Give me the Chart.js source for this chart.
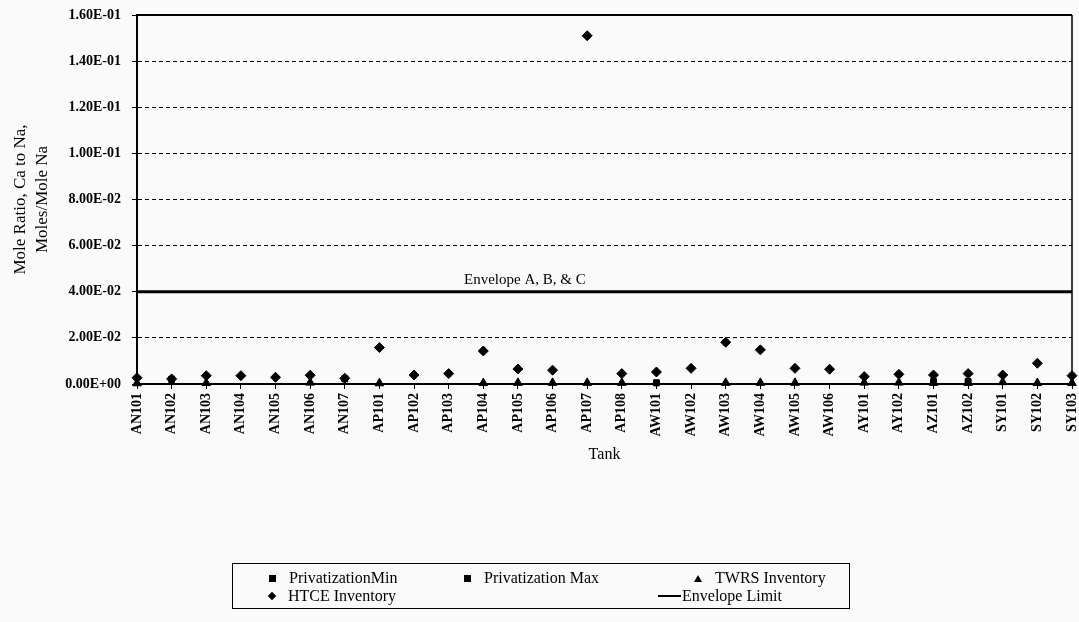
<!DOCTYPE html>
<html>
<head>
<meta charset="utf-8">
<script src="https://cdn.jsdelivr.net/npm/chart.js@4/dist/chart.umd.min.js"></script>
<style>
  body { margin: 0; background: #fafafa; }
  #wrap { position: relative; width: 1079px; height: 622px; }
  #legend {
    position: absolute; left: 232px; top: 563px; width: 616px; height: 44px;
    border: 1px solid #000; font-family: "Liberation Serif", serif; font-size: 16px; color: #000;
  }
  .item { position: absolute; display: flex; align-items: center; white-space: nowrap; line-height: 18px; }
  .mk { display: inline-block; margin-right: 13px; }
  .sq { width: 7px; height: 7px; background: #000; }
  .tri { width: 0; height: 0; border-left: 4px solid transparent; border-right: 4px solid transparent; border-bottom: 7px solid #000; }
  .dia { width: 6px; height: 6px; background: #000; transform: rotate(45deg); }
  .ln { width: 23px; height: 2px; background: #000; margin-right: 1px; }
</style>
</head>
<body>
<div id="wrap">
  <canvas id="chart"></canvas>
  <div id="legend"></div>
</div>
<script>
const tanks = ['AN101', 'AN102', 'AN103', 'AN104', 'AN105', 'AN106', 'AN107',
    'AP101', 'AP102', 'AP103', 'AP104', 'AP105', 'AP106', 'AP107', 'AP108',
    'AW101', 'AW102', 'AW103', 'AW104', 'AW105', 'AW106',
    'AY101', 'AY102', 'AZ101', 'AZ102', 'SY101', 'SY102', 'SY103']

const privMin = [null, 0.0019, null, null, null, null, 0.0022,
    null, null, null, null, null, null, null, null,
    0.0004, null, null, null, null, null,
    null, null, 0.0008, 0.0008, null, null, null]

const privMax = [null, 0.0021, null, null, null, null, 0.0024,
    null, null, null, null, null, null, null, null,
    0.0006, null, null, null, null, null,
    null, null, 0.0011, 0.0011, null, null, null]

const twrs = [0.0003, null, 0.0004, null, null, 0.0006, null,
    0.0003, null, null, 0.0004, 0.0005, 0.0005, 0.0005, 0.0005,
    null, null, 0.0005, 0.0005, 0.0005, null,
    0.0006, 0.0006, 0.0005, 0.0005, 0.0008, 0.0004, 0.0004]

const htce = [0.0027, 0.0022, 0.0036, 0.0036, 0.0029, 0.0038, 0.0025,
    0.0158, 0.0039, 0.0045, 0.0143, 0.0065, 0.006, 0.151, 0.0045,
    0.0052, 0.0068, 0.0181, 0.0148, 0.0068, 0.0064,
    0.0032, 0.0042, 0.0039, 0.0045, 0.0039, 0.009, 0.0036]

const envelopeLimit = tanks.map(() => 0.04)
const yTicks = [0, 0.02, 0.04, 0.06, 0.08, 0.1, 0.12, 0.14, 0.16]

// format 1.60E-01 comme dans l'original
function sci(v) {
    let s = Number(v).toExponential(2).toUpperCase()
    return s.replace(/E([+-])(\d)$/, 'E$10$2')
}

const serif = '"Liberation Serif", "Times New Roman", serif'

// cadre haut/droite + texte de l'enveloppe
const framePlugin = {
    id: 'frame',
    afterDatasetsDraw(chart) {
        const { ctx, chartArea: a, scales } = chart
        ctx.save()
        ctx.strokeStyle = '#000'
        ctx.lineWidth = 2
        ctx.beginPath()
        ctx.moveTo(a.left, a.top)
        ctx.lineTo(a.right, a.top)
        ctx.stroke()
        ctx.lineWidth = 1.5
        ctx.beginPath()
        ctx.moveTo(a.right, a.top)
        ctx.lineTo(a.right, a.bottom)
        ctx.stroke()
        ctx.fillStyle = '#000'
        ctx.font = '15px ' + serif
        ctx.textAlign = 'center'
        ctx.textBaseline = 'alphabetic'
        ctx.fillText('Envelope A, B, & C', scales.x.getPixelForValue(11.2), scales.y.getPixelForValue(0.04) - 8)
        ctx.restore()
    }
}

function pts(label, data, style, radius) {
    return {
        label, data,
        showLine: false,
        pointStyle: style,
        pointRadius: radius,
        pointHoverRadius: radius,
        pointBackgroundColor: '#000',
        pointBorderColor: '#000',
        borderColor: '#000',
        backgroundColor: '#000',
        clip: false
    }
}

const chart = new Chart(document.getElementById('chart'), {
    type: 'line',
    data: {
        labels: tanks,
        datasets: [
            pts('PrivatizationMin', privMin, 'rect', 4),
            pts('Privatization Max', privMax, 'rect', 4),
            pts('TWRS Inventory', twrs, 'triangle', 5),
            pts('HTCE Inventory', htce, 'rectRot', 5),
            {
                label: 'Envelope Limit',
                data: envelopeLimit,
                borderColor: '#000',
                borderWidth: 3,
                pointRadius: 0,
                fill: false
            }
        ]
    },
    options: {
        responsive: true,
        maintainAspectRatio: false,
        animation: false,
        layout: { padding: { top: 15, right: 7, bottom: 158, left: 0 } },
        plugins: { legend: { display: false }, tooltip: { enabled: false } },
        scales: {
            x: {
                offset: false,
                grid: { display: true, drawOnChartArea: false, drawTicks: true, tickLength: 5, color: '#000', tickColor: '#000', tickWidth: 1 },
                border: { display: true, color: '#000', width: 2 },
                ticks: {
                    autoSkip: false, maxRotation: 90, minRotation: 90, padding: 4,
                    color: '#000', font: { family: serif, size: 14, weight: 'bold' }
                },
                title: { display: true, text: 'Tank', color: '#000', font: { family: serif, size: 16 }, padding: { top: 0, bottom: 0 } },
                afterFit(scale) {
                    scale.height = 80
                    scale.paddingLeft = 0
                    scale.paddingRight = 0
                }
            },
            y: {
                min: 0,
                max: 0.16,
                afterBuildTicks(scale) {
                    scale.ticks = yTicks.map((v) => ({ value: v }))
                },
                grid: { color: '#000', lineWidth: 1, tickLength: 5, tickColor: '#000', tickBorderDash: [] },
                border: { display: true, color: '#000', width: 2, dash: [4, 3] },
                ticks: {
                    padding: 11, color: '#000',
                    font: { family: serif, size: 14, weight: 'bold' },
                    callback: (v) => sci(v)
                },
                title: {
                    display: true, text: ['Mole Ratio, Ca to Na,', 'Moles/Mole Na'], color: '#000',
                    font: { family: serif, size: 17, lineHeight: 1.3 }, padding: { top: 9, bottom: 0 }
                },
                afterFit(scale) {
                    scale.width = 137
                    scale.paddingTop = 0
                    scale.paddingBottom = 0
                }
            }
        }
    },
    plugins: [framePlugin]
})

// légende HTML construite à partir des datasets
const legendPos = [
    { left: 36, top: 5 }, { left: 231, top: 5 }, { left: 461, top: 5 },
    { left: 36, top: 23 }, { left: 425, top: 23 }
]
const markClass = ['sq', 'sq', 'tri', 'dia', 'ln']
const legend = document.getElementById('legend')
chart.data.datasets.forEach((ds, i) => {
    const item = document.createElement('div')
    item.className = 'item'
    item.style.left = legendPos[i].left + 'px'
    item.style.top = legendPos[i].top + 'px'
    const mk = document.createElement('span')
    mk.className = 'mk ' + markClass[i]
    const txt = document.createElement('span')
    txt.textContent = ds.label
    item.appendChild(mk)
    item.appendChild(txt)
    legend.appendChild(item)
})
</script>
</body>
</html>
